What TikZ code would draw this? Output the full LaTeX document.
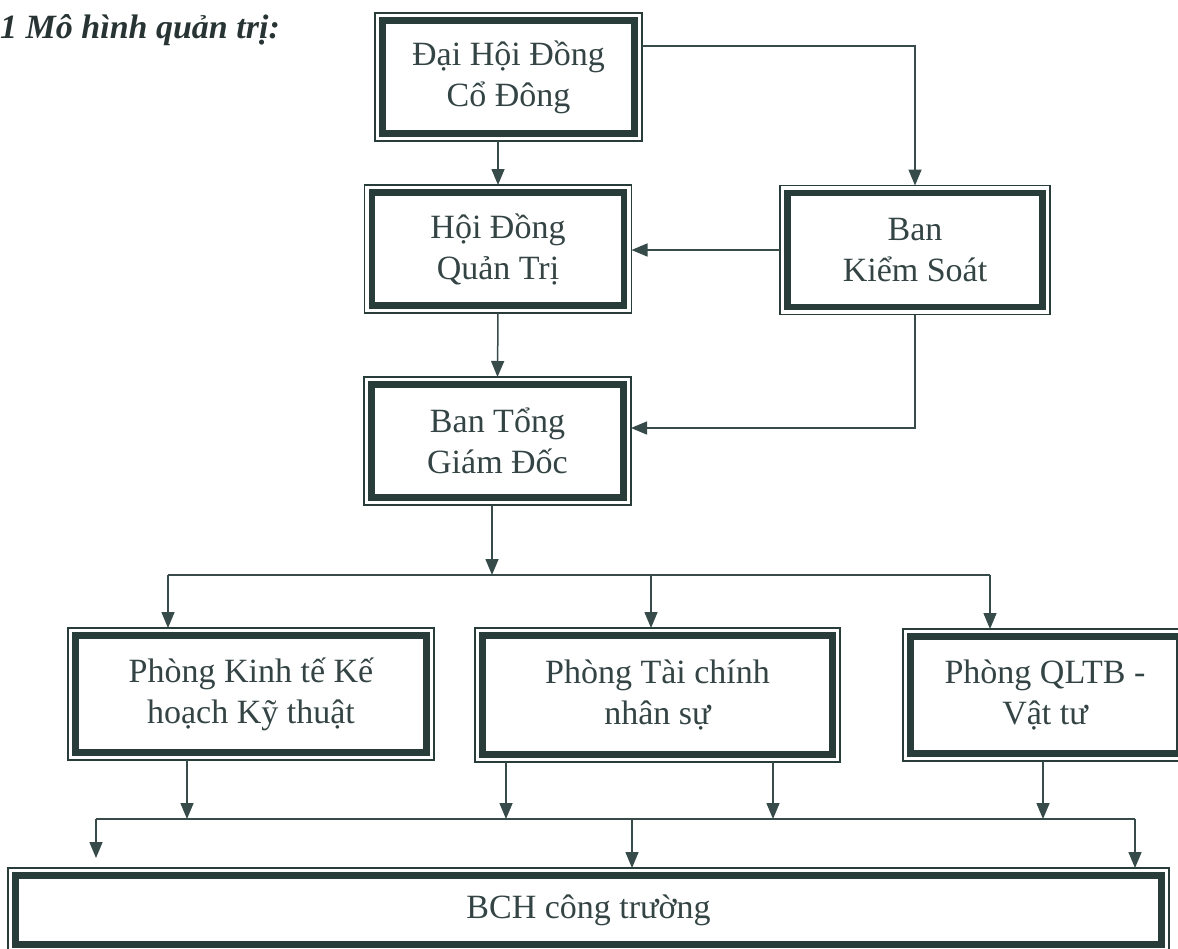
\documentclass[tikz,border=0pt]{standalone}
\usepackage{fontspec}
\setmainfont{Liberation Serif}
\usetikzlibrary{arrows.meta,calc}
\definecolor{boxc}{RGB}{40,60,58}
\definecolor{linec}{RGB}{55,75,75}
\definecolor{txt}{RGB}{52,68,68}
\definecolor{ttl}{RGB}{40,52,52}
\tikzset{
  box/.style={draw=boxc, line width=6.5pt, fill=white, text=txt, align=center,
    font=\fontsize{34}{41}\selectfont, inner sep=0pt, outer sep=7.5pt},
  outerline/.style={draw=boxc, line width=1.5pt},
  wire/.style={draw=linec, line width=1.5pt},
  conn/.style={wire, -{Triangle[width=13pt,length=16pt]}},
}
\begin{document}
\begin{tikzpicture}[x=1pt,y=-1pt]
\useasboundingbox (0,0) rectangle (1178,948);
% title
\node[anchor=base west, inner sep=0pt, text=ttl, font=\fontsize{34}{41}\selectfont\bfseries\itshape] (title) at (0,38) {1 Mô hình quản trị:};
% boxes
\node[box, minimum width=252pt, minimum height=113pt] (dh) at (508.5,77) {Đại Hội Đồng\\Cổ Đông};
\node[box, minimum width=252pt, minimum height=113pt] (hdqt) at (498,249) {Hội Đồng\\Quản Trị};
\node[box, minimum width=255pt, minimum height=114pt] (bks) at (915,250) {Ban\\Kiểm Soát};
\node[box, minimum width=252pt, minimum height=113pt] (tgd) at (497.5,441) {Ban Tổng\\Giám Đốc};
\node[box, minimum width=351pt, minimum height=117pt] (pkt) at (251,694) {Phòng Kinh tế Kế\\hoạch Kỹ thuật};
\node[box, minimum width=350pt, minimum height=119pt] (ptc) at (657.5,695) {Phòng Tài chính\\nhân sự};
\node[box, minimum width=269pt, minimum height=117pt] (qltb) at (1045,695) {Phòng QLTB -\\Vật tư};
\node[box, minimum width=1146pt, minimum height=69pt] (bch) at (588.5,910) {BCH công trường};
\foreach \n in {dh,hdqt,bks,tgd,pkt,ptc,qltb,bch}
  \draw[outerline] (\n.north west) rectangle (\n.south east);
% upper connectors
\draw[conn] (hdqt.north |- dh.south) -- (hdqt.north);
\draw[conn] ([yshift=31pt]dh.east) -| (bks.north);
\draw[conn] (bks.west) -- (bks.west -| hdqt.east);
\draw[conn] (hdqt.south) -- (tgd.north);
\draw[conn] (bks.south) |- ([yshift=13pt]tgd.east);
% middle bus
\coordinate (b0) at (492,575);
\coordinate (b1) at (168,575);
\coordinate (b2) at (651,575);
\coordinate (b3) at (990,575);
\draw[conn] (b0 |- tgd.south) -- (b0);
\draw[wire] (b1) -- (b3);
\draw[conn] (b1) -- (b1 |- pkt.north);
\draw[conn] (b2) -- (b2 |- ptc.north);
\draw[conn] (b3) -- (b3 |- qltb.north);
% lower bus
\coordinate (l1) at (96,819);
\coordinate (l2) at (632,819);
\coordinate (l3) at (1135,819);
\coordinate (e1) at (96,858);
\coordinate (u1) at (187,819);
\coordinate (u2) at (506,819);
\coordinate (u3) at (773,819);
\coordinate (u4) at (1043,819);
\draw[wire] (l1) -- (l3);
\draw[conn] (u1 |- pkt.south) -- (u1);
\draw[conn] (u2 |- ptc.south) -- (u2);
\draw[conn] (u3 |- ptc.south) -- (u3);
\draw[conn] (u4 |- qltb.south) -- (u4);
\draw[conn] (l1) -- (e1);
\draw[conn] (l2) -- (l2 |- bch.north);
\draw[conn] (l3) -- (l3 |- bch.north);
\end{tikzpicture}
\end{document}
